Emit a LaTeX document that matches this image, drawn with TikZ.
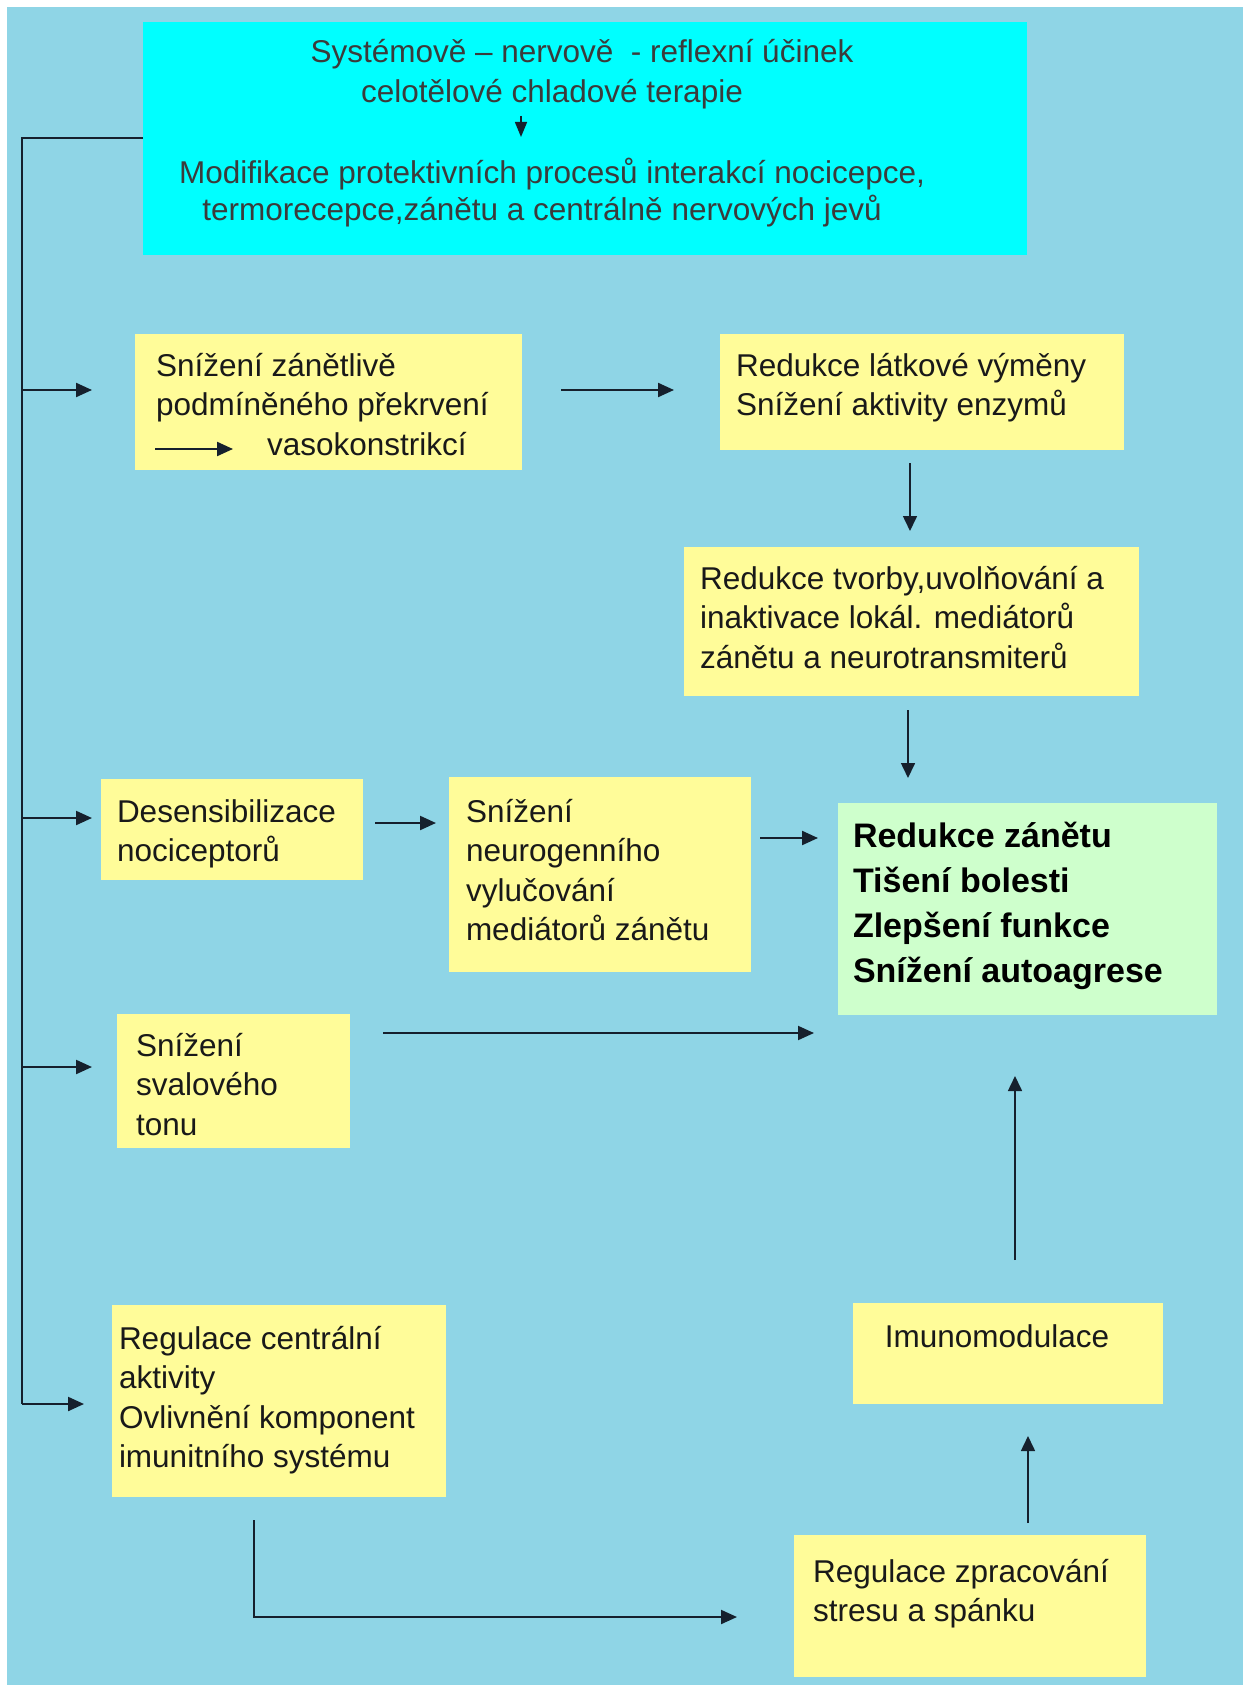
\documentclass[tikz,border=0pt]{standalone}
\usepackage{fontspec}
\setmainfont{Liberation Sans}
\usetikzlibrary{arrows.meta}
\definecolor{bgblue}{RGB}{143,213,230}
\definecolor{cyanbox}{RGB}{0,255,255}
\definecolor{yelbox}{RGB}{255,252,153}
\definecolor{grnbox}{RGB}{206,255,204}
\definecolor{linec}{RGB}{22,32,45}
\definecolor{txtc}{RGB}{25,25,25}
\tikzset{
  boxfill/.style={inner sep=0, outer sep=0, draw=none},
  ybox/.style={boxfill, fill=yelbox},
  txt/.style={anchor=north west, inner sep=0, outer sep=0, align=left, text=txtc,
    font=\fontsize{31.5}{39.5}\selectfont},
  toptxt/.style={anchor=north, inner sep=0, outer sep=0, align=center, text=txtc!85,
    font=\fontsize{31.5}{40}\selectfont},
  boldtxt/.style={anchor=north west, inner sep=0, outer sep=0, align=left, text=black,
    font=\fontsize{34}{45}\selectfont\bfseries},
  trunk/.style={draw=linec, line width=2pt},
  arr/.style={draw=linec, line width=2.2pt, -{Triangle[length=16pt,width=14pt]}},
  arrthin/.style={draw=linec, line width=1.6pt, -{Triangle[length=15pt,width=14pt]}},
}
\begin{document}
\begin{tikzpicture}[x=1pt,y=-1pt]
\useasboundingbox (0,0) rectangle (1243,1685);
\fill[white] (0,0) rectangle (1243,1685);
\fill[bgblue] (7,7) rectangle (1243,1685);

% boxes
\node[boxfill, fill=cyanbox, minimum width=884pt, minimum height=233pt] (T) at (585,138.5) {};
\node[ybox, minimum width=387pt, minimum height=136pt] (A) at (328.5,402) {};
\node[ybox, minimum width=404pt, minimum height=116pt] (B) at (922,392) {};
\node[ybox, minimum width=455pt, minimum height=149pt] (C) at (911.5,621.5) {};
\node[boxfill, fill=grnbox, minimum width=379pt, minimum height=212pt] (D) at (1027.5,909) {};
\node[ybox, minimum width=262pt, minimum height=101pt] (E) at (232,829.5) {};
\node[ybox, minimum width=302pt, minimum height=195pt] (F) at (600,874.5) {};
\node[ybox, minimum width=233pt, minimum height=134pt] (G) at (233.5,1081) {};
\node[ybox, minimum width=310pt, minimum height=101pt] (H) at (1008,1353.5) {};
\node[ybox, minimum width=334pt, minimum height=192pt] (I) at (279,1401) {};
\node[ybox, minimum width=352pt, minimum height=142pt] (J) at (970,1606) {};

% texts
\node[toptxt] (Tt1) at (582,35) {\strut Systémově – nervově~~- reflexní účinek\\ celotělové chladové terapie\hspace*{60pt}};
\node[toptxt, font=\fontsize{31.5}{37}\selectfont] (Tt2) at (552,158) {\strut Modifikace protektivních procesů interakcí nocicepce,\\ termorecepce,zánětu a centrálně nervových jevů\hspace*{20pt}};
\node[txt] (At) at (156,348.35) {\strut Snížení zánětlivě\\ podmíněného překrvení\\ \hspace*{111pt}vasokonstrikcí};
\node[txt] (Bt) at (736,348.35) {\strut Redukce látkové výměny\\ Snížení aktivity enzymů};
\node[txt] (Ct) at (700,561.35) {\strut Redukce tvorby,uvolňování a\\ inaktivace lokál. mediátorů\\ zánětu a neurotransmiterů};
\node[boldtxt] (Dt) at (853,815.5) {\strut Redukce zánětu\\ Tišení bolesti\\ Zlepšení funkce\\ Snížení autoagrese};
\node[txt] (Et) at (117,794.35) {\strut Desensibilizace\\ nociceptorů};
\node[txt] (Ft) at (466,794.35) {\strut Snížení\\ neurogenního\\ vylučování\\ mediátorů zánětu};
\node[txt] (Gt) at (136,1028.35) {\strut Snížení\\ svalového\\ tonu};
\node[txt, anchor=base] (Ht) at (997,1347) {Imunomodulace};
\node[txt] (It) at (119,1321.35) {\strut Regulace centrální\\ aktivity\\ Ovlivnění komponent\\ imunitního systému};
\node[txt] (Jt) at (813,1554.35) {\strut Regulace zpracování\\ stresu a spánku};

% coordinates for free ends
\coordinate (tk0) at (22,138.5);
\coordinate (tk1) at (22,1404);
\coordinate (b1) at (22,390);
\coordinate (b1e) at (92,390);
\coordinate (b2) at (22,818);
\coordinate (b2e) at (92,818);
\coordinate (b3) at (22,1067);
\coordinate (b3e) at (92,1067);
\coordinate (b4e) at (84,1404);
\coordinate (ttop) at (521,116);
\coordinate (tbot) at (521,137);
\coordinate (ia0) at (155,449);
\coordinate (ia1) at (233,449);
\coordinate (ab0) at (561,390);
\coordinate (ab1) at (674,390);
\coordinate (bc0) at (910,463);
\coordinate (bc1) at (910,531);
\coordinate (cd0) at (908,710);
\coordinate (cd1) at (908,778);
\coordinate (ef0) at (375,823);
\coordinate (ef1) at (436,823);
\coordinate (fd0) at (760,838);
\coordinate (fd1) at (818,838);
\coordinate (gd0) at (383,1033);
\coordinate (gd1) at (814,1033);
\coordinate (hd0) at (1015,1260);
\coordinate (hd1) at (1015,1076);
\coordinate (ij0) at (254,1520);
\coordinate (ij1) at (254,1617);
\coordinate (ij2) at (737,1617);
\coordinate (jh0) at (1028,1523);
\coordinate (jh1) at (1028,1436);

% connectors
\draw[trunk] (T.west) -- (tk0) -- (tk1);
\draw[arr] (tk1) -- (b4e);
\draw[arr] (b1) -- (b1e);
\draw[arr] (b2) -- (b2e);
\draw[arr] (b3) -- (b3e);
\draw[draw=linec, line width=1.5pt, -{Triangle[length=15pt,width=12pt]}] (ttop) -- (tbot);
\draw[arr] (ia0) -- (ia1);
\draw[arr] (ab0) -- (ab1);
\draw[arrthin] (bc0) -- (bc1);
\draw[arrthin] (cd0) -- (cd1);
\draw[arr] (ef0) -- (ef1);
\draw[arr] (fd0) -- (fd1);
\draw[arr, line width=2pt] (gd0) -- (gd1);
\draw[arrthin] (hd0) -- (hd1);
\draw[arr, line width=2pt] (ij0) -- (ij1) -- (ij2);
\draw[arrthin] (jh0) -- (jh1);
\end{tikzpicture}
\end{document}
